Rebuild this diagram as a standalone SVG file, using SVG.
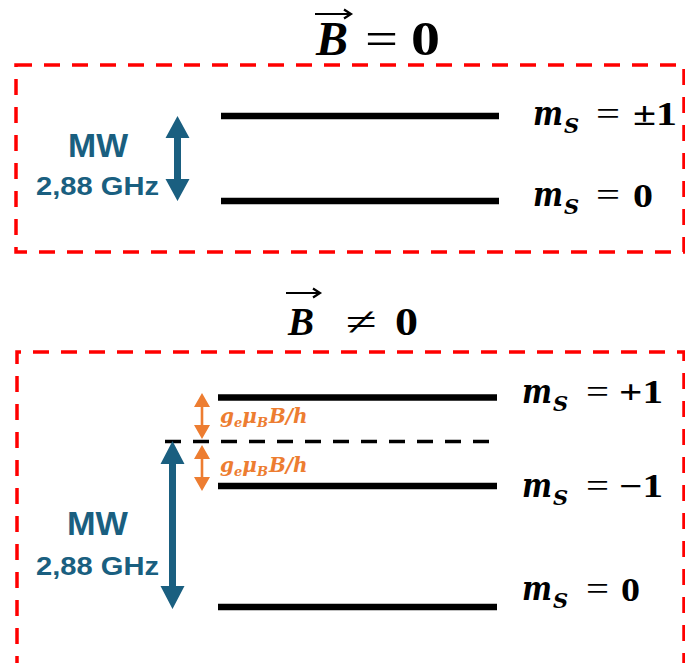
<svg xmlns="http://www.w3.org/2000/svg" width="685" height="663" viewBox="0 0 685 663">
<style>
.box{fill:none;stroke:#ff0000;stroke-width:3.5;stroke-dasharray:16 12}
.lvl{stroke:#000;stroke-width:6.5}
.dash{stroke:#000;stroke-width:3.5;stroke-dasharray:16 12}
.blue{fill:#1a5f80}
.orange{fill:#ed7d31}
.mw{font-family:"Liberation Sans",Arial,sans-serif;font-weight:bold;fill:#1a5f80}
.lab{font-family:"DejaVu Serif","Liberation Serif",serif;font-size:31px;fill:#000}
.num{font-family:"Liberation Serif","DejaVu Serif",serif;font-size:33px;font-weight:bold;fill:#000}
.eq{font-family:"Liberation Serif","DejaVu Serif",serif;font-size:33px;fill:#000}
.m{font-style:italic;font-weight:bold;font-size:33px}
.sub{font-size:21px;font-style:italic;font-weight:bold}
.title{font-family:"Liberation Serif","DejaVu Serif",serif;fill:#000}
.it{font-style:italic;font-weight:bold}
.bd{font-weight:bold}
.or{font-family:"DejaVu Serif","Liberation Serif",serif;font-size:20px;font-style:italic;font-weight:bold;fill:#ed7d31}
.osub{font-size:13px}
.vec{fill:none;stroke:#000;stroke-width:2.2}
</style>
<rect width="685" height="663" fill="#fff"/>

<g id="title-top">
  <text class="title it" x="316" y="55" font-size="48" textLength="32" lengthAdjust="spacingAndGlyphs">B</text>
  <path class="vec" d="M315 14H350M344 9.5L351 14L344 18.5"/>
  <text class="title" x="365" y="55" font-size="48" textLength="33" lengthAdjust="spacingAndGlyphs">=</text>
  <text class="title bd" x="411" y="55" font-size="48" textLength="29" lengthAdjust="spacingAndGlyphs">0</text>
</g>

<g id="box-top">
  <rect class="box" x="16" y="65" width="668" height="187"/>
</g>

<g id="level-top-pm1">
  <line class="lvl" x1="221" y1="116" x2="499" y2="116"/>
  <text class="lab m" x="533" y="125" textLength="30" lengthAdjust="spacingAndGlyphs">m</text>
  <text class="lab sub" x="564" y="133">S</text>
  <text class="eq" x="596" y="125" textLength="24" lengthAdjust="spacingAndGlyphs">=</text>
  <text class="num" x="633" y="125" textLength="44" lengthAdjust="spacingAndGlyphs">±1</text>
</g>

<g id="level-top-0">
  <line class="lvl" x1="221" y1="201" x2="499" y2="201"/>
  <text class="lab m" x="533" y="206" textLength="30" lengthAdjust="spacingAndGlyphs">m</text>
  <text class="lab sub" x="564" y="214">S</text>
  <text class="eq" x="596" y="206" textLength="24" lengthAdjust="spacingAndGlyphs">=</text>
  <text class="num" x="633" y="207" textLength="20" lengthAdjust="spacingAndGlyphs">0</text>
</g>

<g id="mw-top">
  <text class="mw" x="68" y="157" font-size="33" textLength="60" lengthAdjust="spacingAndGlyphs">MW</text>
  <text class="mw" x="36" y="195" font-size="26" textLength="123" lengthAdjust="spacingAndGlyphs">2,88 GHz</text>
</g>

<g id="title-bottom">
  <text class="title it" x="288" y="335" font-size="40" textLength="26" lengthAdjust="spacingAndGlyphs">B</text>
  <path class="vec" d="M286 293H319M313 288.5L320 293L313 297.5"/>
  <text class="title" x="346" y="335" font-size="40" textLength="31" lengthAdjust="spacingAndGlyphs">≠</text>
  <text class="title bd" x="395" y="335" font-size="40" textLength="23" lengthAdjust="spacingAndGlyphs">0</text>
</g>

<g id="box-bottom">
  <path class="box" d="M17 700V352H684V700"/>
</g>

<g id="level-bottom-p1">
  <line class="lvl" x1="218" y1="397.5" x2="497" y2="397.5"/>
  <text class="lab m" x="522" y="403" textLength="30" lengthAdjust="spacingAndGlyphs">m</text>
  <text class="lab sub" x="553" y="411">S</text>
  <text class="eq" x="586" y="403" textLength="23" lengthAdjust="spacingAndGlyphs">=</text>
  <text class="num" x="619" y="403" textLength="44" lengthAdjust="spacingAndGlyphs">+1</text>
</g>

<g id="level-bottom-ref">
  <line class="dash" x1="165" y1="441.5" x2="490" y2="441.5"/>
</g>

<g id="level-bottom-m1">
  <line class="lvl" x1="218" y1="486" x2="497" y2="486"/>
  <text class="lab m" x="522" y="497" textLength="30" lengthAdjust="spacingAndGlyphs">m</text>
  <text class="lab sub" x="553" y="505">S</text>
  <text class="eq" x="586" y="497" textLength="23" lengthAdjust="spacingAndGlyphs">=</text>
  <text class="num" x="619" y="497" textLength="44" lengthAdjust="spacingAndGlyphs">−1</text>
</g>

<g id="level-bottom-0">
  <line class="lvl" x1="218" y1="607" x2="497" y2="607"/>
  <text class="lab m" x="522" y="600" textLength="30" lengthAdjust="spacingAndGlyphs">m</text>
  <text class="lab sub" x="553" y="608">S</text>
  <text class="eq" x="586" y="600" textLength="23" lengthAdjust="spacingAndGlyphs">=</text>
  <text class="num" x="621" y="601" textLength="19" lengthAdjust="spacingAndGlyphs">0</text>
</g>

<g id="mw-bottom">
  <text class="mw" x="67" y="535" font-size="33" textLength="61" lengthAdjust="spacingAndGlyphs">MW</text>
  <text class="mw" x="36" y="575" font-size="26" textLength="123" lengthAdjust="spacingAndGlyphs">2,88 GHz</text>
</g>

<g id="zeeman-labels">
  <text class="or" x="220" y="423">g<tspan class="osub" dy="4">e</tspan><tspan dy="-4">μ</tspan><tspan class="osub" dy="4">B</tspan><tspan dy="-4" dx="1">B/h</tspan></text>
  <text class="or" x="220" y="472">g<tspan class="osub" dy="4">e</tspan><tspan dy="-4">μ</tspan><tspan class="osub" dy="4">B</tspan><tspan dy="-4" dx="1">B/h</tspan></text>
</g>

<g id="connectors">
  <polygon class="blue" points="177.5,116 189.5,138 181,138 181,179 189.5,179 177.5,201 165.5,179 174,179 174,138 165.5,138"/>
  <polygon class="blue" points="172.5,441 184.5,464 176,464 176,586 184.5,586 172.5,609 160.5,586 169,586 169,464 160.5,464"/>
  <polygon class="orange" points="202,393 210,407 203.3,407 203.3,425 210,425 202,439 194,425 200.7,425 200.7,407 194,407"/>
  <polygon class="orange" points="202,445 210,459 203.3,459 203.3,477 210,477 202,491 194,477 200.7,477 200.7,459 194,459"/>
</g>
</svg>
